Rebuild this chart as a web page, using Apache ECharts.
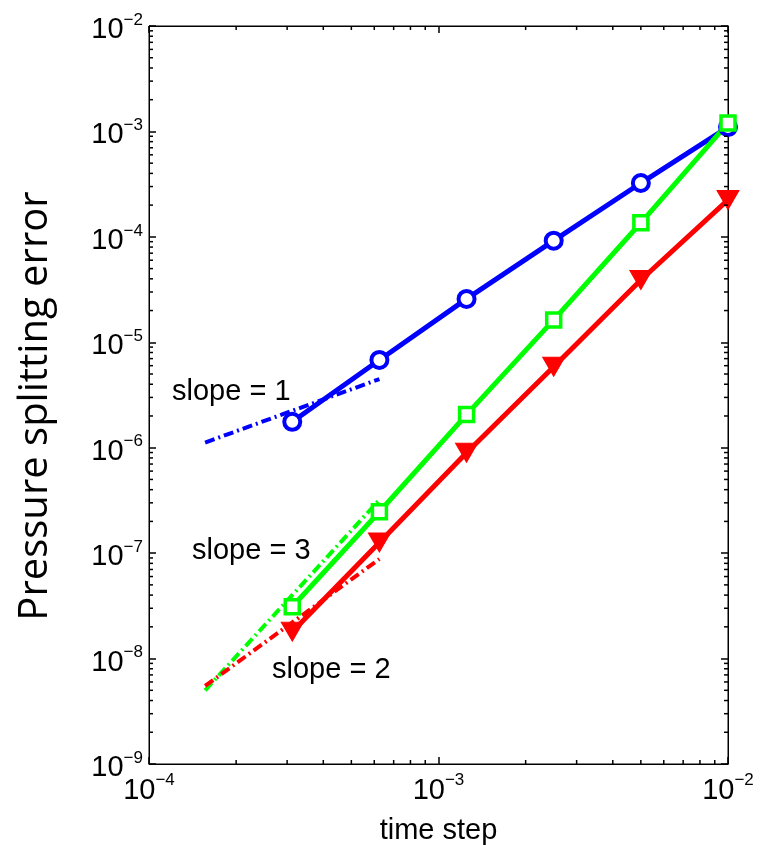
<!DOCTYPE html>
<html>
<head>
<meta charset="utf-8">
<title>Pressure splitting error</title>
<script src="https://cdn.jsdelivr.net/npm/echarts@6/dist/echarts.min.js"></script>
<style>
  html, body { margin: 0; padding: 0; background: #fff; }
  #chart { width: 763px; height: 845px; }
</style>
</head>
<body>
<div id="chart"></div>
<script>
// Time steps (halved each refinement) and the error of each splitting scheme
const timeSteps = [3.125e-4, 6.25e-4, 1.25e-3, 2.5e-3, 5e-3, 1e-2];
const firstOrderErr  = [1.76e-6, 6.8e-6, 2.58e-5, 9.2e-5, 3.24e-4, 1.1e-3];
const thirdOrderErr  = [3.1e-8, 2.47e-7, 2.06e-6, 1.63e-5, 1.36e-4, 1.2e-3];
const secondOrderErr = [1.8e-8, 1.26e-7, 8.97e-7, 5.86e-6, 3.9e-5, 2.24e-4];

// Reference slope segments: [time step, error] at both ends
const slope1Ref = [[1.5625e-4, 1.12e-6], [6.25e-4, 4.48e-6]];
const slope3Ref = [[1.5625e-4, 5.0e-9], [6.25e-4, 3.2e-7]];
const slope2Ref = [[1.5625e-4, 5.5e-9], [6.25e-4, 8.8e-8]];

// Axis ranges (decades)
const X_MIN = 1e-4, X_MAX = 1e-2;
const Y_MIN = 1e-9, Y_MAX = 1e-2;

// Minor tick values 2..9 x 10^k inside each decade
function minorTicks(loExp, hiExp) {
  const out = [];
  for (let e = loExp; e < hiExp; e++) {
    for (let m = 2; m <= 9; m++) out.push(m * Math.pow(10, e));
  }
  return out;
}
const xMinorTicks = minorTicks(-4, -2);
const yMinorTicks = minorTicks(-9, -2);

const BLUE = '#0000ff', GREEN = '#00ff00', RED = '#ff0000';
const TICK_FONT = '"Liberation Sans", Arial, Helvetica, sans-serif';

function powerLabel(value) {
  const e = Math.round(Math.log10(value));
  return '{b|10}{s|' + (e < 0 ? '\u2212' + (-e) : e) + '}';
}
const powerRich = {
  b: { fontFamily: TICK_FONT, fontSize: 29, lineHeight: 29, color: '#000', padding: [8, 0, 0, 0] },
  s: { fontFamily: TICK_FONT, fontSize: 17, lineHeight: 17, color: '#000', verticalAlign: 'top' }
};

function pairs(xs, ys) { return xs.map((x, i) => [x, ys[i]]); }

const chart = echarts.init(document.getElementById('chart'), null, { renderer: 'canvas' });

const baseAxis = {
  type: 'log',
  logBase: 10,
  axisLine: { show: true, onZero: false, lineStyle: { color: '#000', width: 1 } },
  axisTick: { show: true, inside: true, length: 7, lineStyle: { color: '#000', width: 1.5 } },
  minorTick: { show: false },
  splitLine: { show: false }
};

const dashDot = [10, 4, 2, 4];

chart.setOption({
  animation: false,
  backgroundColor: '#fff',
  grid: {
    left: 149, right: 35, top: 26, bottom: 81,
    outerBoundsMode: 'none', containLabel: false,
    show: true, borderColor: '#000', borderWidth: 1, backgroundColor: 'transparent'
  },
  xAxis: [
    Object.assign({}, baseAxis, {
      min: X_MIN, max: X_MAX, splitNumber: 2, position: 'bottom',
      name: 'time step', nameLocation: 'middle', nameGap: 52,
      nameTextStyle: { fontFamily: TICK_FONT, fontSize: 29, color: '#000' },
      axisLabel: { formatter: powerLabel, rich: powerRich, margin: 8 }
    }),
    Object.assign({}, baseAxis, {
      min: X_MIN, max: X_MAX, splitNumber: 2, position: 'top',
      axisLabel: { show: false }
    })
  ],
  yAxis: [
    Object.assign({}, baseAxis, {
      min: Y_MIN, max: Y_MAX, splitNumber: 7, position: 'left',
      axisLabel: { formatter: powerLabel, rich: powerRich, margin: 6 }
    }),
    Object.assign({}, baseAxis, {
      min: Y_MIN, max: Y_MAX, splitNumber: 7, position: 'right',
      axisLabel: { show: false }
    })
  ],
  series: [
    {
      type: 'line', name: 'first order', data: pairs(timeSteps, firstOrderErr),
      lineStyle: { color: BLUE, width: 5 }, itemStyle: { color: '#fff', borderColor: BLUE, borderWidth: 4 },
      symbol: 'circle', symbolSize: 16, showAllSymbol: true
    },
    {
      type: 'line', name: 'third order', data: pairs(timeSteps, thirdOrderErr),
      lineStyle: { color: GREEN, width: 5 }, itemStyle: { color: '#fff', borderColor: GREEN, borderWidth: 3.5 },
      symbol: 'rect', symbolSize: 14, showAllSymbol: true
    },
    {
      type: 'line', name: 'second order', data: pairs(timeSteps, secondOrderErr),
      lineStyle: { color: RED, width: 5 }, itemStyle: { color: RED, borderColor: RED, borderWidth: 1 },
      symbol: 'triangle', symbolRotate: 180, symbolSize: [22, 19], showAllSymbol: true
    },
    {
      type: 'line', name: 'slope 1', data: slope1Ref, symbol: 'none',
      lineStyle: { color: BLUE, width: 4, type: dashDot }
    },
    {
      type: 'line', name: 'slope 3', data: slope3Ref, symbol: 'none',
      lineStyle: { color: GREEN, width: 4, type: dashDot }
    },
    {
      type: 'line', name: 'slope 2', data: slope2Ref, symbol: 'none',
      lineStyle: { color: RED, width: 4, type: dashDot }
    }
  ]
});

// Minor ticks on all four sides of the box, placed through the axis scales
const MINOR_LEN = 4;
const minorTickGraphics = [];
function tickLine(x1, y1, x2, y2) {
  return { type: 'line', silent: true, z: 50, shape: { x1, y1, x2, y2 }, style: { stroke: '#000', lineWidth: 1.5 } };
}
yMinorTicks.forEach(v => {
  const l = chart.convertToPixel({ xAxisIndex: 0, yAxisIndex: 0 }, [X_MIN, v]);
  const r = chart.convertToPixel({ xAxisIndex: 0, yAxisIndex: 0 }, [X_MAX, v]);
  minorTickGraphics.push(tickLine(l[0], l[1], l[0] + MINOR_LEN, l[1]));
  minorTickGraphics.push(tickLine(r[0], r[1], r[0] - MINOR_LEN, r[1]));
});
xMinorTicks.forEach(v => {
  const b = chart.convertToPixel({ xAxisIndex: 0, yAxisIndex: 0 }, [v, Y_MIN]);
  const t = chart.convertToPixel({ xAxisIndex: 0, yAxisIndex: 0 }, [v, Y_MAX]);
  minorTickGraphics.push(tickLine(b[0], b[1], b[0], b[1] - MINOR_LEN));
  minorTickGraphics.push(tickLine(t[0], t[1], t[0], t[1] + MINOR_LEN));
});

chart.setOption({
  graphic: [
    {
      type: 'text', x: 36, y: 406, rotation: Math.PI / 2,
      style: { text: 'Pressure splitting error', fontFamily: '"Open Sans", "Noto Sans", sans-serif', fontSize: 40, fill: '#000', align: 'center', verticalAlign: 'middle' }
    },
    { type: 'text', x: 172, y: 392, style: { text: 'slope = 1', fontFamily: TICK_FONT, fontSize: 29, fill: '#000', verticalAlign: 'middle' } },
    { type: 'text', x: 192, y: 551, style: { text: 'slope = 3', fontFamily: TICK_FONT, fontSize: 29, fill: '#000', verticalAlign: 'middle' } },
    { type: 'text', x: 272, y: 670, style: { text: 'slope = 2', fontFamily: TICK_FONT, fontSize: 29, fill: '#000', verticalAlign: 'middle' } }
  ].concat(minorTickGraphics)
});
</script>
</body>
</html>
